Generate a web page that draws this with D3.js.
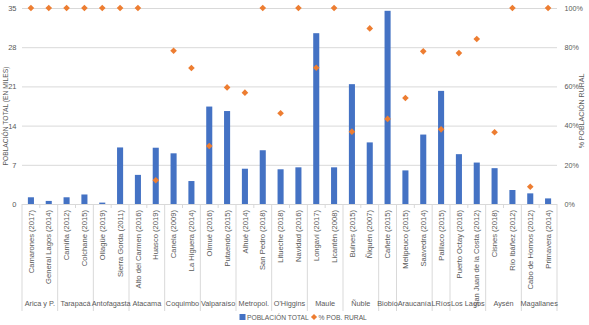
<!DOCTYPE html>
<html>
<head>
<meta charset="utf-8">
<script src="https://cdn.jsdelivr.net/npm/d3@7"></script>
<style>
  body { margin: 0; background: #fff; }
  svg { font-family: "Liberation Sans", Arial, sans-serif; }
</style>
</head>
<body>
<div id="chart"></div>
<script>
// region of each comuna
var regions = ["Arica y P.", "Arica y P.", "Tarapacá", "Tarapacá", "Antofagasta", "Antofagasta",
  "Atacama", "Atacama", "Coquimbo", "Coquimbo", "Valparaíso", "Valparaíso",
  "Metropol.", "Metropol.", "O'Higgins", "O'Higgins", "Maule", "Maule",
  "Ñuble", "Ñuble", "Biobío", "Araucanía", "Araucanía", "LRíos",
  "Los Lagos", "Los Lagos", "Aysén", "Aysén", "Magallanes", "Magallanes"];

var comunas = ["Camarones (2017)", "General Lagos (2014)", "Camiña (2012)", "Colchane (2015)",
  "Ollagüe (2019)", "Sierra Gorda (2011)", "Alto del Carmen (2016)", "Huasco (2019)",
  "Canela (2009)", "La Higuera (2014)", "Olmué (2016)", "Putaendo (2015)",
  "Alhué (2014)", "San Pedro (2018)", "Litueche (2018)", "Navidad (2016)",
  "Longaví (2017)", "Licantén (2008)", "Bulnes (2015)", "Ñiquén (2007)",
  "Cañete (2015)", "Melipeuco (2015)", "Saavedra (2014)", "Paillaco (2015)",
  "Puerto Octay (2016)", "San Juan de la Costa (2012)", "Cisnes (2018)", "Río Ibáñez (2012)",
  "Cabo de Hornos (2012)", "Primavera (2014)"];

// población total (miles)
var poblacion = [1.2, 0.55, 1.2, 1.7, 0.25, 10.1, 5.2, 10.05, 9.05, 4.1,
  17.4, 16.6, 6.3, 9.6, 6.2, 6.55, 30.5, 6.55, 21.4, 11.0,
  34.5, 6.0, 12.4, 20.2, 8.9, 7.4, 6.4, 2.5, 1.9, 1.0];

// % población rural
var rural = [100, 100, 100, 100, 100, 100, 100, 12.1, 78.2, 69.4,
  29.6, 59.5, 56.8, 100, 46.3, 100, 69.5, 100, 36.9, 89.6,
  43.4, 54.1, 77.9, 38.1, 77.0, 84.2, 36.6, 100, 8.8, 100];

var leftTicks = [0, 7, 14, 21, 28, 35];
var rightTicks = [0, 20, 40, 60, 80, 100];

var W = 589, H = 325;
var plotLeft = 22, plotRight = 557, plotTop = 8, plotBottom = 204;

var svg = d3.select("#chart").append("svg")
    .attr("width", W)
    .attr("height", H);

var idx = d3.range(comunas.length);
var x = d3.scaleBand().domain(idx).range([plotLeft, plotRight]);
var y = d3.scaleLinear().domain([0, 35]).range([plotBottom, plotTop]);
var y2 = d3.scaleLinear().domain([0, 100]).range([plotBottom, plotTop]);

// gridlines
svg.append("g")
    .attr("transform", "translate(" + plotLeft + ",0)")
    .call(d3.axisLeft(y).tickValues(leftTicks).tickSize(-(plotRight - plotLeft)).tickFormat(""))
    .call(function(g) { g.select(".domain").remove(); })
    .selectAll("line").attr("stroke", "#d9d9d9");

// left axis labels
svg.append("g")
    .attr("transform", "translate(" + 16.5 + ",0)")
    .call(d3.axisLeft(y).tickValues(leftTicks).tickSize(0).tickPadding(0))
    .call(function(g) { g.select(".domain").remove(); })
    .selectAll("text").attr("fill", "#595959").style("font-size", "7.5px");

// right axis labels
svg.append("g")
    .attr("transform", "translate(" + 564.5 + ",0)")
    .call(d3.axisRight(y2).tickValues(rightTicks).tickSize(0).tickPadding(0)
      .tickFormat(function(d) { return d + "%"; }))
    .call(function(g) { g.select(".domain").remove(); })
    .selectAll("text").attr("fill", "#595959").style("font-size", "7.2px");

// axis titles
svg.append("text")
    .attr("transform", "translate(8,116) rotate(-90)")
    .attr("text-anchor", "middle")
    .attr("fill", "#595959")
    .style("font-size", "6.7px")
    .text("POBLACIÓN TOTAL (EN MILES)");

svg.append("text")
    .attr("transform", "translate(584,111) rotate(-90)")
    .attr("text-anchor", "middle")
    .attr("fill", "#595959")
    .style("font-size", "7px")
    .text("% POBLACIÓN RURAL");

// bars
var barW = x.bandwidth() * 0.34;
svg.selectAll(".bar")
    .data(poblacion)
  .enter().append("rect")
    .attr("class", "bar")
    .attr("x", function(d, i) { return x(i) + (x.bandwidth() - barW) / 2; })
    .attr("y", function(d) { return y(d); })
    .attr("width", barW)
    .attr("height", function(d) { return plotBottom - y(d); })
    .attr("fill", "#4472c4");

// diamonds
var diamond = d3.symbol().type(d3.symbolDiamond2).size(28);
svg.selectAll(".pt")
    .data(rural)
  .enter().append("path")
    .attr("class", "pt")
    .attr("d", diamond)
    .attr("transform", function(d, i) {
      return "translate(" + (x(i) + x.bandwidth() / 2) + "," + y2(d) + ")";
    })
    .attr("fill", "#ed7d31");

// category axis: short ticks between items, long lines between regions
var bounds = d3.range(comunas.length + 1);
svg.selectAll(".sep")
    .data(bounds)
  .enter().append("line")
    .attr("class", "sep")
    .attr("x1", function(d) { return plotLeft + d * x.step(); })
    .attr("x2", function(d) { return plotLeft + d * x.step(); })
    .attr("y1", plotBottom)
    .attr("y2", function(d) {
      var isGroup = d === 0 || d === comunas.length || regions[d] !== regions[d - 1];
      return isGroup ? 311 : 208;
    })
    .attr("stroke", "#d9d9d9")
    .attr("stroke-width", 1);

// comuna labels
svg.selectAll(".cat")
    .data(comunas)
  .enter().append("text")
    .attr("class", "cat")
    .attr("transform", function(d, i) {
      return "translate(" + (x(i) + x.bandwidth() / 2 + 2.7) + ",210) rotate(-90)";
    })
    .attr("text-anchor", "end")
    .attr("fill", "#595959")
    .style("font-size", "7.6px")
    .text(function(d) { return d; });

// region labels
var groups = [];
regions.forEach(function(r, i) {
  var last = groups[groups.length - 1];
  if (last && last.name === r) last.end = i;
  else groups.push({ name: r, start: i, end: i });
});
svg.selectAll(".grp")
    .data(groups)
  .enter().append("text")
    .attr("class", "grp")
    .attr("x", function(g) { return (x(g.start) + x(g.end) + x.bandwidth()) / 2; })
    .attr("y", 306)
    .attr("text-anchor", "middle")
    .attr("fill", "#595959")
    .style("font-size", "7.3px")
    .text(function(g) { return g.name; });

// legend
var legend = svg.append("g").attr("transform", "translate(0,317)");
legend.append("rect")
    .attr("x", 239.5).attr("y", -3).attr("width", 6).attr("height", 6)
    .attr("fill", "#4472c4");
legend.append("text")
    .attr("x", 247).attr("y", 2.5)
    .attr("fill", "#595959").style("font-size", "6.7px")
    .text("POBLACIÓN TOTAL");
legend.append("path")
    .attr("d", d3.symbol().type(d3.symbolDiamond2).size(24))
    .attr("transform", "translate(314,0)")
    .attr("fill", "#ed7d31");
legend.append("text")
    .attr("x", 318.5).attr("y", 2.5)
    .attr("fill", "#595959").style("font-size", "6.7px")
    .text("% POB. RURAL");
</script>
</body>
</html>
